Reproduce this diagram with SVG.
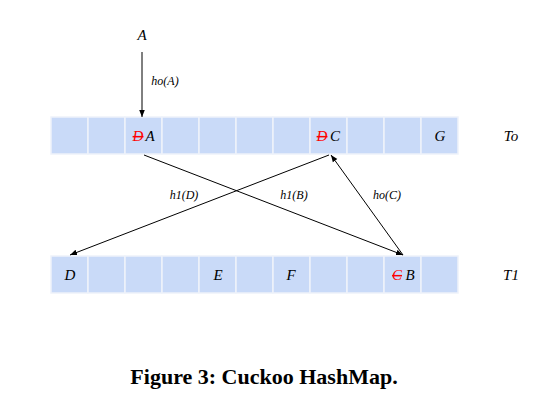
<svg xmlns="http://www.w3.org/2000/svg" width="554" height="418" viewBox="0 0 554 418">
<style>
.cell{fill:#c9daf8;stroke:#eef2fa;stroke-width:1.5}
.lbl{font-family:"Liberation Serif","DejaVu Serif",serif;font-style:italic;font-size:15px;fill:#000;text-anchor:middle}
.sm{font-family:"Liberation Serif","DejaVu Serif",serif;font-style:italic;font-size:12px;fill:#000;text-anchor:middle}
.red{fill:#ff0000;text-decoration:line-through}
.edge{stroke:#000;stroke-width:1;fill:none;marker-end:url(#ah)}
.cap{font-family:"Liberation Serif","DejaVu Serif",serif;font-weight:bold;font-size:22px;text-anchor:middle;fill:#000}
</style>
<defs>
<marker id="ah" viewBox="0 0 10 10" refX="10" refY="5" markerWidth="7" markerHeight="7" orient="auto" markerUnits="userSpaceOnUse">
<path d="M0,1 L10,5 L0,9 z" fill="#000"/>
</marker>
</defs>
<rect width="554" height="418" fill="#fff"/>
<g id="T0">
<rect class="cell" x="51" y="117" width="37" height="37"/>
<rect class="cell" x="88" y="117" width="37" height="37"/>
<rect class="cell" x="125" y="117" width="37" height="37"/>
<rect class="cell" x="162" y="117" width="37" height="37"/>
<rect class="cell" x="199" y="117" width="37" height="37"/>
<rect class="cell" x="236" y="117" width="37" height="37"/>
<rect class="cell" x="273" y="117" width="37" height="37"/>
<rect class="cell" x="310" y="117" width="37" height="37"/>
<rect class="cell" x="347" y="117" width="37" height="37"/>
<rect class="cell" x="384" y="117" width="37" height="37"/>
<rect class="cell" x="421" y="117" width="37" height="37"/>
<text class="lbl red" x="138" y="141">D</text>
<text class="lbl" x="150" y="141">A</text>
<text class="lbl red" x="322" y="141">D</text>
<text class="lbl" x="335" y="141">C</text>
<text class="lbl" x="440" y="141">G</text>
<text class="lbl" x="511" y="141">To</text>
</g>
<g id="T1">
<rect class="cell" x="51" y="256" width="37" height="37"/>
<rect class="cell" x="88" y="256" width="37" height="37"/>
<rect class="cell" x="125" y="256" width="37" height="37"/>
<rect class="cell" x="162" y="256" width="37" height="37"/>
<rect class="cell" x="199" y="256" width="37" height="37"/>
<rect class="cell" x="236" y="256" width="37" height="37"/>
<rect class="cell" x="273" y="256" width="37" height="37"/>
<rect class="cell" x="310" y="256" width="37" height="37"/>
<rect class="cell" x="347" y="256" width="37" height="37"/>
<rect class="cell" x="384" y="256" width="37" height="37"/>
<rect class="cell" x="421" y="256" width="37" height="37"/>
<text class="lbl" x="70" y="280">D</text>
<text class="lbl" x="218" y="280">E</text>
<text class="lbl" x="291" y="280">F</text>
<text class="lbl red" x="397" y="280">C</text>
<text class="lbl" x="410" y="280">B</text>
<text class="lbl" x="511" y="280">T1</text>
</g>
<g id="keyA">
<text class="lbl" x="142" y="40">A</text>
</g>
<g id="connectors">
<line class="edge" x1="142" y1="52" x2="142" y2="117"/>
<line class="edge" x1="144" y1="155" x2="403" y2="255"/>
<line class="edge" x1="329" y1="155" x2="70" y2="255"/>
<line class="edge" x1="403" y1="255" x2="331" y2="155"/>
<text class="sm" x="165" y="85">ho(A)</text>
<text class="sm" x="184" y="199">h1(D)</text>
<text class="sm" x="294" y="199">h1(B)</text>
<text class="sm" x="387" y="199">ho(C)</text>
</g>
<text class="cap" x="264" y="384">Figure 3: Cuckoo HashMap.</text>
</svg>
